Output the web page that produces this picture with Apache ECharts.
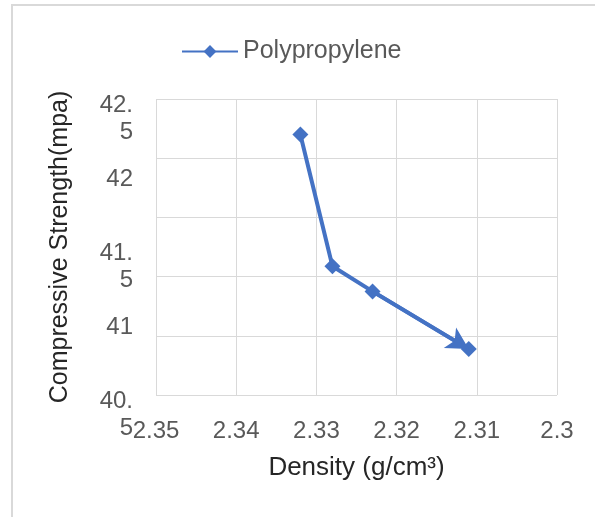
<!DOCTYPE html>
<html>
<head>
<meta charset="utf-8">
<script src="https://cdn.jsdelivr.net/npm/echarts@6/dist/echarts.min.js"></script>
<style>
  html, body { margin: 0; padding: 0; background: #fff; }
  #chart { width: 595px; height: 517px; }
</style>
</head>
<body>
<div id="chart"></div>
<script>
// values
var seriesName = "Polypropylene";
var density = [2.332, 2.328, 2.323, 2.311];
var strength = [42.26, 41.37, 41.2, 40.81];
var xTicks = [2.3, 2.35, 0.01];     // min, max, step
var yTicks = [40.5, 42.5, 0.5];     // min, max, step

var FONT = "Liberation Sans, Arial, sans-serif";
var BLUE = "#4472C4";
var GRID = "#d9d9d9";

var points = density.map(function (d, i) {
  return [d, strength[i]];
});
var last = points.length - 1;

var chart = echarts.init(document.getElementById("chart"));
window.addEventListener("resize", function () {
  chart.resize();
});

chart.setOption({
  animation: false,
  backgroundColor: "#fff",
  textStyle: { fontFamily: FONT },
  graphic: [
    {
      type: "rect",
      shape: { x: 12, y: 5, width: 600, height: 530 },
      style: { fill: "none", stroke: GRID, lineWidth: 2 },
      silent: true,
    },
  ],
  legend: {
    left: 176,
    top: 34,
    itemWidth: 56,
    itemHeight: 16,
    itemGap: 6,
    textStyle: { fontSize: 25, color: "#595959", fontFamily: FONT, padding: [0, 0, 0, 0] },
    data: [seriesName],
  },
  grid: { left: 156, top: 99, right: 38, bottom: 122 },
  xAxis: {
    type: "value",
    inverse: true,
    min: xTicks[0],
    max: xTicks[1],
    interval: xTicks[2],
    name: "Density (g/cm³)",
    nameLocation: "middle",
    nameGap: 60,
    nameTextStyle: { fontSize: 26, color: "#262626", fontFamily: FONT },
    axisLine: { show: false },
    axisTick: { show: false },
    axisLabel: {
      margin: 24,
      fontSize: 24,
      color: "#595959",
      fontFamily: FONT,
      formatter: function (v) {
        return String(+v.toFixed(2));
      },
    },
    splitLine: { show: true, lineStyle: { color: GRID, width: 1 } },
  },
  yAxis: [
    {
      type: "value",
      min: yTicks[0],
      max: yTicks[1],
      interval: yTicks[2],
      name: "Compressive Strength(mpa)",
      nameLocation: "middle",
      nameGap: 83,
      nameTextStyle: { fontSize: 25, color: "#262626", fontFamily: FONT },
      axisLine: { show: false },
      axisTick: { show: false },
      splitLine: { show: false },
      axisLabel: {
        margin: 23,
        fontSize: 24,
        lineHeight: 27,
        verticalAlign: "top",
        padding: [-7, 0, 0, 0],
        color: "#595959",
        fontFamily: FONT,
        formatter: function (v) {
          var s = String(+v.toFixed(1));
          // the narrow label column wraps "42.5" after the point
          return s.indexOf(".") > -1 ? s.replace(".", ".\n") : s;
        },
      },
    },
    {
      // gridlines only: the plot shows five bands
      type: "value",
      position: "left",
      min: 0,
      max: 5,
      interval: 1,
      axisLine: { show: false },
      axisTick: { show: false },
      axisLabel: { show: false },
      splitLine: { show: true, lineStyle: { color: GRID, width: 1 } },
    },
  ],
  series: [
    {
      name: seriesName,
      type: "line",
      yAxisIndex: 0,
      data: points,
      symbol: "diamond",
      symbolSize: 16,
      lineStyle: { color: BLUE, width: 4 },
      itemStyle: { color: BLUE },
      markLine: {
        silent: true,
        symbol: ["none", "arrow"],
        symbolSize: [18, 22],
        label: { show: false },
        lineStyle: { color: BLUE, width: 4, type: "solid" },
        data: [
          [
            { coord: points[last - 1] },
            { coord: points[last] },
          ],
        ],
      },
    },
  ],
});
</script>
</body>
</html>
